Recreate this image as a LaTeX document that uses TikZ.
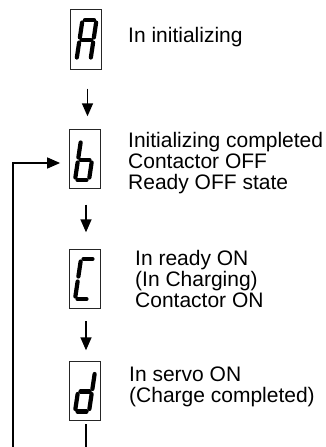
\documentclass[tikz,border=0pt]{standalone}
\usepackage{fontspec}
\setmainfont{Liberation Sans}
\usetikzlibrary{arrows.meta}
\tikzset{
  dispbox/.style={draw=black!85, line width=0.8pt, minimum width=31pt, minimum height=59pt, inner sep=0pt, fill=white},
  seg/.style={line width=4.2pt, line cap=round},
  arr/.style={line width=1.5pt, -{Triangle[length=13pt,width=11pt]}},
  plainline/.style={line width=1.5pt},
  lbl/.style={anchor=base west, inner sep=0pt, font=\fontsize{21}{21}\selectfont}
}
\newcommand{\segdA}{\draw[seg] (-4.5,-20) -- (4.5,-20);}
\newcommand{\segdB}{\draw[seg] (7,-17.5) -- (7,-2.5);}
\newcommand{\segdC}{\draw[seg] (7,2.5) -- (7,17.5);}
\newcommand{\segdD}{\draw[seg] (-4.5,20) -- (4.5,20);}
\newcommand{\segdE}{\draw[seg] (-7,2.5) -- (-7,17.5);}
\newcommand{\segdF}{\draw[seg] (-7,-17.5) -- (-7,-2.5);}
\newcommand{\segdG}{\draw[seg] (-4.5,0) -- (4.5,0);}
\newcommand{\digitat}[3]{\begin{scope}[shift={(#1,#2)},xslant=0.15]\foreach \s in {#3}{\csname segd\s\endcsname}\end{scope}}
\begin{document}
\begin{tikzpicture}[x=1pt,y=-1pt]
\useasboundingbox (0,0) rectangle (326,447);
% boxes
\node[dispbox, minimum height=60pt] (bA) at (86,39) {};
\node[dispbox] (bB) at (84.5,158.5) {};
\node[dispbox] (bC) at (84.5,278.5) {};
\node[dispbox] (bD) at (84.5,390.5) {};
% digits
\digitat{86.5}{40}{A,B,C,E,F,G}
\digitat{85}{160}{F,E,G,C,D}
\digitat{85}{279}{A,F,E,D}
\digitat{85}{391.5}{B,C,G,E,D}
% labels
\node[lbl] (tA) at (128,42) {In initializing};
\node[lbl] (tB1) at (128,147) {Initializing completed};
\node[lbl] (tB2) at (128,168) {Contactor OFF};
\node[lbl] (tB3) at (128,189) {Ready OFF state};
\node[lbl] (tC1) at (135,265) {In ready ON};
\node[lbl] (tC2) at (135,286) {(In Charging)};
\node[lbl] (tC3) at (135,307) {Contactor ON};
\node[lbl] (tD1) at (129,381) {In servo ON};
\node[lbl] (tD2) at (129,402) {(Charge completed)};
% arrows
\draw[arr, shorten <=19.3pt, shorten >=12.3pt] ([xshift=1.5pt]bA.south) -- ([xshift=1.5pt]bA.south |- bB.north);
\draw[arr, shorten <=16.3pt, shorten >=16.3pt] ([xshift=1.5pt]bB.south) -- ([xshift=1.5pt]bB.south |- bC.north);
\draw[arr, shorten <=13pt, shorten >=10.3pt] ([xshift=1.5pt]bC.south) -- ([xshift=1.5pt]bC.south |- bD.north);
% feedback and bottom line
\coordinate (fbend) at (13,447);
\coordinate (dend) at (86,447);
\draw[arr, shorten >=8.5pt] (fbend) |- ([yshift=-4.5pt]bB.west);
\draw[plainline, shorten <=4pt] (dend |- bD.south) -- (dend);
\end{tikzpicture}
\end{document}
